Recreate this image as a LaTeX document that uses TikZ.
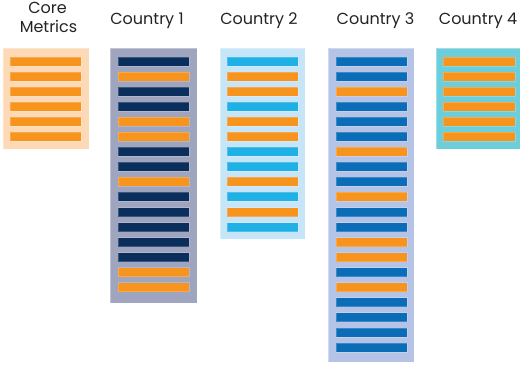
\documentclass[tikz,border=0pt]{standalone}
\usepackage{fontspec}
\setmainfont{Poppins}
\newlength{\du}
\setlength{\du}{1pt}
\definecolor{barorange}{RGB}{247,148,29}
\definecolor{barnavy}{RGB}{10,47,92}
\definecolor{barsky}{RGB}{31,177,230}
\definecolor{barblue}{RGB}{11,109,183}
\definecolor{corebg}{RGB}{253,218,181}
\definecolor{onebg}{RGB}{160,165,191}
\definecolor{twobg}{RGB}{199,229,248}
\definecolor{threebg}{RGB}{181,196,230}
\definecolor{fourbg}{RGB}{108,205,219}
\definecolor{labelcolor}{RGB}{35,35,35}

\begin{document}
\begin{tikzpicture}[
  colbox/.style={draw=white,draw opacity=0.35,line width=0.8\du},
  bar/.style={draw=white,draw opacity=0.2,line width=0.8\du},
  lbl/.style={anchor=base,inner sep=0pt,text=labelcolor,font=\fontsize{16}{18}\selectfont}]
\pgftransformxscale{1.000000}
\pgftransformyscale{-1.000000}
\useasboundingbox (0\du,0\du) rectangle (520\du,373\du);
% titles
\node[lbl] (corea) at (47.5\du,13.3\du){Core};
\node[lbl] (coreb) at (48.5\du,32.7\du){Metrics};
\node[lbl] (onelbl) at (147\du,24\du){Country 1};
\node[lbl] (twolbl) at (259\du,24\du){Country 2};
\node[lbl] (threelbl) at (375.5\du,24\du){Country 3};
\node[lbl] (fourlbl) at (478\du,24\du){Country 4};
% core metrics
\fill[corebg,colbox] (3\du,48\du) rectangle (89\du,149\du);
\foreach \col [count=\i from 0] in {barorange,barorange,barorange,barorange,barorange,barorange}{
  \pgfmathsetmacro\y{57+15.05*\i}
  \fill[\col,bar] (10\du,\y\du) rectangle (81\du,\y\du+9\du);
}
% country 1
\fill[onebg,colbox] (110\du,48\du) rectangle (197\du,303\du);
\foreach \col [count=\i from 0] in {barnavy,barorange,barnavy,barnavy,barorange,barorange,barnavy,barnavy,
  barorange,barnavy,barnavy,barnavy,barnavy,barnavy,barorange,barorange}{
  \pgfmathsetmacro\y{57+15.05*\i}
  \fill[\col,bar] (118\du,\y\du) rectangle (189\du,\y\du+9\du);
}
% country 2
\fill[twobg,colbox] (220\du,48\du) rectangle (305\du,239\du);
\foreach \col [count=\i from 0] in {barsky,barorange,barorange,barsky,barorange,barorange,barsky,barsky,
  barorange,barsky,barorange,barsky}{
  \pgfmathsetmacro\y{57+15.05*\i}
  \fill[\col,bar] (227\du,\y\du) rectangle (298\du,\y\du+9\du);
}
% country 3
\fill[threebg,colbox] (328\du,48\du) rectangle (414\du,362\du);
\foreach \col [count=\i from 0] in {barblue,barblue,barorange,barblue,barblue,barblue,barorange,barblue,
  barblue,barorange,barblue,barblue,barorange,barorange,barblue,barorange,barblue,barblue,barblue,barblue}{
  \pgfmathsetmacro\y{57+15.05*\i}
  \fill[\col,bar] (336\du,\y\du) rectangle (407\du,\y\du+9\du);
}
% country 4
\fill[fourbg,colbox] (436\du,48\du) rectangle (520\du,149\du);
\foreach \col [count=\i from 0] in {barorange,barorange,barorange,barorange,barorange,barorange}{
  \pgfmathsetmacro\y{57+15.05*\i}
  \fill[\col,bar] (443\du,\y\du) rectangle (515\du,\y\du+9\du);
}
\end{tikzpicture}
\end{document}
